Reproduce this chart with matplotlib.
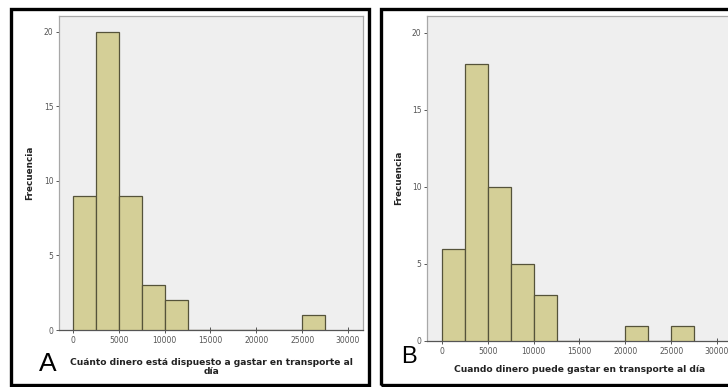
import matplotlib
matplotlib.use("Agg")
import matplotlib.pyplot as plt
from matplotlib.patches import Rectangle

W, H = 728, 387

# histogram bins (width 2500) and counts for each panel
bin_edges = [0, 2500, 5000, 7500, 10000, 12500, 15000, 17500, 20000, 22500, 25000, 27500]
counts_a = [9, 20, 9, 3, 2, 0, 0, 0, 0, 0, 1]
counts_b = [6, 18, 10, 5, 3, 0, 0, 0, 1, 0, 1]

x_ticks = [0, 5000, 10000, 15000, 20000, 25000, 30000]
y_ticks = [0, 5, 10, 15, 20]

label_a = "Cuánto dinero está dispuesto a gastar en transporte al\ndía"
label_b = "Cuando dinero puede gastar en transporte al día"

BAR = "#d4cf97"
EDGE = "#55533a"
BG = "#efefef"

fig = plt.figure(figsize=(W / 100, H / 100), dpi=100)
fig.patch.set_facecolor("white")


def px_axes(l, t, r, b):
    return fig.add_axes([l / W, 1 - b / H, (r - l) / W, (b - t) / H])


def frame(l, t, r, b):
    fig.patches.append(Rectangle((l / W, 1 - b / H), (r - l) / W, (b - t) / H,
                                 transform=fig.transFigure, fill=False,
                                 edgecolor="black", lw=2.4, zorder=10))


def hist(ax, counts, xlim, ylim):
    lefts = bin_edges[:-1]
    widths = [bin_edges[i + 1] - bin_edges[i] for i in range(len(lefts))]
    ax.bar(lefts, counts, width=widths, align="edge", color=BAR,
           edgecolor=EDGE, linewidth=0.9, zorder=3)
    ax.set_facecolor(BG)
    ax.set_xlim(*xlim)
    ax.set_ylim(*ylim)
    ax.set_xticks(x_ticks)
    ax.set_yticks(y_ticks)
    ax.tick_params(axis="both", labelsize=5.5, labelcolor="#555555",
                   color="#555555", length=2.5, width=0.7, pad=1.5)
    ax.tick_params(axis="x", direction="inout", length=4, pad=2.5)
    for s in ax.spines.values():
        s.set_color("#a8a8a8")
        s.set_linewidth(0.9)
    ax.spines["bottom"].set_color("#555555")


# panel A
frame(11, 9, 369, 385)
ax1 = px_axes(59, 16, 363, 330)
hist(ax1, counts_a, (-1527, 31640), (0, 21.07))
fig.text(30 / W, 1 - 173 / H, "Frecuencia", rotation=90, ha="center", va="center",
         fontsize=6.4, fontweight="bold", color="#222222")
fig.text(211 / W, 1 - 367 / H, label_a, ha="center", va="center", fontsize=6.6,
         fontweight="bold", color="#222222", linespacing=0.95)
fig.text(48 / W, 1 - 364 / H, "A", ha="center", va="center", fontsize=19,
         family="Liberation Sans", color="black")

# panel B
frame(381, 9, 740, 385)
ax2 = px_axes(427, 16, 731, 341)
hist(ax2, counts_b, (-1636, 31527), (0, 21.1))
fig.text(399 / W, 1 - 178 / H, "Frecuencia", rotation=90, ha="center", va="center",
         fontsize=6.4, fontweight="bold", color="#222222")
fig.text(580 / W, 1 - 370 / H, label_b, ha="center", va="center", fontsize=6.6,
         fontweight="bold", color="#222222")
fig.text(409 / W, 1 - 357 / H, "B", ha="center", va="center", fontsize=17,
         family="Liberation Sans", color="black")

fig.savefig("out.png", dpi=100)
